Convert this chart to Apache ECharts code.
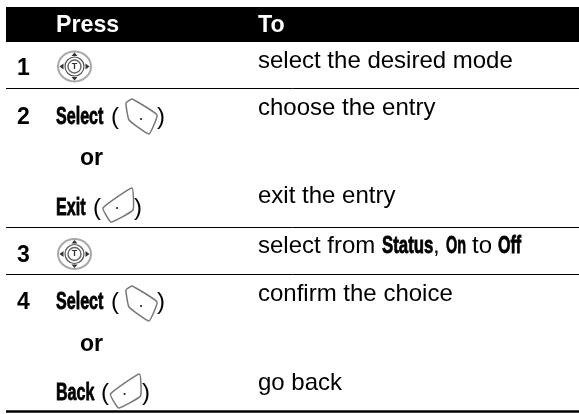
<!DOCTYPE html>
<html>
<head>
<meta charset="utf-8">
<style>
  html, body { margin: 0; padding: 0; background: #fff; }
  #main { width: 579px; height: 414px; }
</style>
<script src="https://cdn.jsdelivr.net/npm/echarts@6/dist/echarts.min.js"></script>
</head>
<body>
<div id="main"></div>
<script>
const headers = ['Press', 'To'];
const stepNumbers = ['1', '2', '3', '4'];
const softKeys = ['Select', 'Exit', 'Select', 'Back'];
const orLabel = 'or';
const actions = ['select the desired mode', 'choose the entry', 'exit the entry', 'confirm the choice', 'go back'];
const statusWords = ['select from', 'Status', ',', 'On', 'to', 'Off'];

const chart = echarts.init(document.getElementById('main'), null, { renderer: 'canvas' });

const sans = '"Liberation Sans", Arial, sans-serif';

function plain(c, text, x, y, size, weight) {
    const p = c(x, y);
    return {
        type: 'text', x: p[0], y: p[1],
        style: { text: text, fill: '#000', font: weight + ' ' + size + 'px ' + sans, align: 'left', verticalAlign: 'middle' }
    };
}

// the phone's display font is a heavy condensed face, so squeeze the bold sans
function display(c, text, x, y, sx) {
    const p = c(x, y);
    return {
        type: 'text', x: p[0], y: p[1], scaleX: sx,
        style: {
            text: text, fill: '#000', stroke: '#000', lineWidth: 0.8,
            font: 'bold 24px ' + sans, align: 'left', verticalAlign: 'middle'
        }
    };
}

function rule(c, y, width) {
    const a = c(6, y), b = c(579, y);
    return { type: 'line', shape: { x1: a[0], y1: a[1], x2: b[0], y2: b[1] }, style: { stroke: '#000', lineWidth: width } };
}

function poly(c, pts, style) {
    return { type: 'polygon', shape: { points: pts.map(p => c(p[0], p[1])) }, style: style };
}

function joystick(c, x, y) {
    const o = c(x, y);
    const ring = (rx, ry, col, w) => ({
        type: 'ellipse', shape: { cx: o[0], cy: o[1], rx: rx, ry: ry },
        style: { fill: 'transparent', stroke: col, lineWidth: w }
    });
    const arrow = pts => poly(c, pts.map(p => [x + p[0], y + p[1]]), { fill: '#333' });
    return [
        ring(16.5, 15, '#a8a8a8', 2),
        ring(9.5, 9.5, '#555', 1.2),
        ring(6.5, 6.5, '#666', 1.4),
        arrow([[0, -14], [-3, -10.5], [3, -10.5]]),
        arrow([[0, 14], [-3, 10.5], [3, 10.5]]),
        arrow([[-15, 0], [-11, -3], [-11, 3]]),
        arrow([[15, 0], [11, -3], [11, 3]]),
        { type: 'text', x: o[0], y: o[1], style: { text: 'T', fill: '#333', font: 'bold 9px ' + sans, align: 'center', verticalAlign: 'middle' } }
    ];
}

function keyShape(c, pts, dot) {
    const p = pts.map(q => c(q[0], q[1]));
    const d = c(dot[0], dot[1]);
    return [
        { type: 'polygon', shape: { points: p, smooth: 0.12 }, style: { fill: '#fff', stroke: '#777', lineWidth: 1.5 } },
        { type: 'circle', shape: { cx: d[0], cy: d[1], r: 1.1 }, style: { fill: '#222' } }
    ];
}

// right soft key, outline relative to the dot
const rightKey = [[-15, -16], [-9, -20], [16, -4], [8, 15], [-12, 1]];
// left soft key
const leftKey = [[-14, 0], [15, -20], [16, 2], [-6, 14]];

function placed(shape, x, y) {
    return shape.map(p => [x + p[0], y + p[1]]);
}

function renderTable(params, api) {
    const at = (x, y) => api.coord([x, y]);
    const kids = [];

    // header band
    const tl = at(6, 7), br = at(579, 42);
    kids.push({ type: 'rect', shape: { x: tl[0], y: tl[1], width: br[0] - tl[0], height: br[1] - tl[1] }, style: { fill: '#000' } });
    kids.push(plain(at, headers[0], 56, 26, 23.2, 'bold'));
    kids.push(plain(at, headers[1], 258, 26, 23.2, 'bold'));
    kids.forEach(k => { if (k.type === 'text') k.style.fill = '#fff'; });

    // row rules
    kids.push(rule(at, 88.5, 1), rule(at, 227.5, 1), rule(at, 274.5, 1), rule(at, 411.5, 2.5));

    // step numbers
    [69, 118, 255.5, 302.5].forEach((y, i) => kids.push(plain(at, stepNumbers[i], 17, y, 23, 'bold')));

    // joystick rows
    kids.push(...joystick(at, 74.5, 66.5), ...joystick(at, 74.5, 254));

    // soft key rows
    const keyRows = [
        { y: 117, open: 111, close: 157, shape: rightKey, dx: 141, dy: 119 },
        { y: 208, open: 93, close: 134, shape: leftKey, dx: 117, dy: 208 },
        { y: 302, open: 111, close: 157, shape: rightKey, dx: 141, dy: 306 },
        { y: 393, open: 101, close: 142, shape: leftKey, dx: 124.5, dy: 394 }
    ];
    keyRows.forEach((r, i) => {
        kids.push(display(at, softKeys[i], 56, r.y, 0.67));
        kids.push(plain(at, '(', r.open, r.y, 24, 'normal'), plain(at, ')', r.close, r.y, 24, 'normal'));
        kids.push(...keyShape(at, placed(r.shape, r.dx, r.dy), [r.dx, r.dy]));
    });

    // the two "or" lines
    [159, 345].forEach(y => kids.push(plain(at, orLabel, 80, y, 23, 'bold')));

    // action column
    [61, 108, 196.5, 294.5, 383].forEach((y, i) => kids.push(plain(at, actions[i], 258, y, 24, 'normal')));

    // status row mixes two fonts
    const y3 = 246.5;
    kids.push(plain(at, statusWords[0], 258, y3, 24, 'normal'));
    kids.push(display(at, statusWords[1], 382, y3, 0.7));
    kids.push(plain(at, statusWords[2], 433, y3, 24, 'normal'));
    kids.push(display(at, statusWords[3], 446, y3, 0.6));
    kids.push(plain(at, statusWords[4], 472, y3, 24, 'normal'));
    kids.push(display(at, statusWords[5], 498, y3, 0.67));

    return { type: 'group', children: kids };
}

chart.setOption({
    animation: false,
    grid: { left: 0, right: 0, top: 0, bottom: 0 },
    xAxis: { type: 'value', min: 0, max: 579, show: false },
    yAxis: { type: 'value', min: 0, max: 414, inverse: true, show: false },
    series: [{
        type: 'custom',
        coordinateSystem: 'cartesian2d',
        silent: true,
        clip: false,
        renderItem: renderTable,
        data: [[0, 0]]
    }]
});
</script>
</body>
</html>
